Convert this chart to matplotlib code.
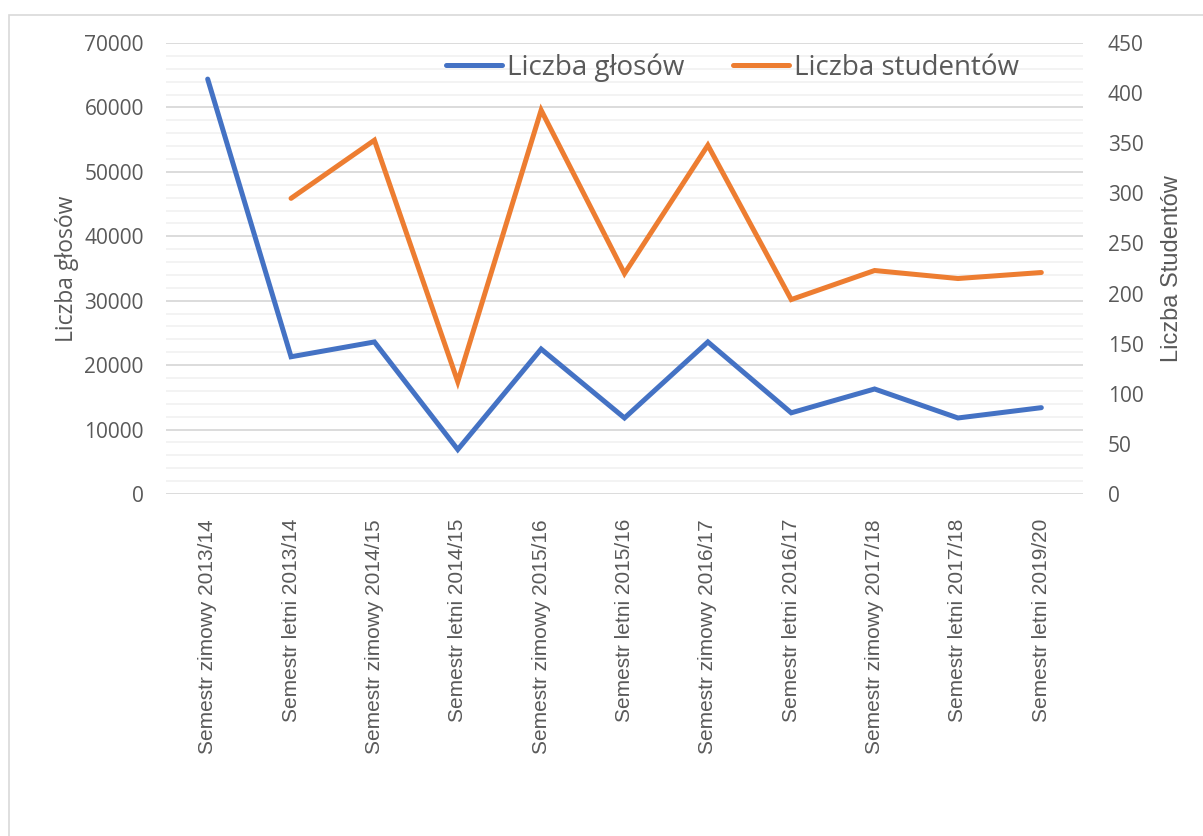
import numpy as np
import matplotlib.pyplot as plt
from matplotlib.patches import Rectangle
from matplotlib.ticker import MultipleLocator

# data
semesters = ["Semestr zimowy 2013/14", "Semestr letni 2013/14", "Semestr zimowy 2014/15",
             "Semestr letni 2014/15", "Semestr zimowy 2015/16", "Semestr letni 2015/16",
             "Semestr zimowy 2016/17", "Semestr letni 2016/17", "Semestr zimowy 2017/18",
             "Semestr letni 2017/18", "Semestr letni 2019/20"]
votes = [64400, 21300, 23600, 6900, 22500, 11800, 23600, 12600, 16300, 11800, 13400]
students = [np.nan, 295, 353, 112, 383, 220, 348, 194, 223, 215, 221]

grey = "#595959"
blue = "#4472C4"
orange = "#ED7D31"
fam = ["Open Sans", "DejaVu Sans"]
narrow = ["Liberation Sans Narrow", "Liberation Sans", "DejaVu Sans"]

fig = plt.figure(figsize=(12.03, 8.36), dpi=100)
# chart area border (top and left visible)
fig.patches.append(Rectangle((9/1203, -0.1), 1.2, 1 - 15/836 + 0.1, transform=fig.transFigure,
                             fill=False, edgecolor="#D9D9D9", lw=1.2))

ax = fig.add_axes([166/1203, 1 - 494/836, (1083-166)/1203, (494-43)/836])
ax2 = ax.twinx()

x = np.arange(len(semesters))
l1, = ax.plot(x, votes, color=blue, lw=3.6, solid_capstyle="round", solid_joinstyle="miter",
              label="Liczba głosów", zorder=3)
l2, = ax2.plot(x, students, color=orange, lw=3.6, solid_capstyle="round", solid_joinstyle="miter",
               label="Liczba studentów", zorder=3)

ax.set_xlim(-0.5, len(semesters) - 0.5)
ax.set_ylim(0, 70000)
ax2.set_ylim(0, 450)
ax.yaxis.set_major_locator(MultipleLocator(10000))
ax.yaxis.set_minor_locator(MultipleLocator(2000))
ax2.yaxis.set_major_locator(MultipleLocator(50))

ax.grid(True, which="major", axis="y", color="#D9D9D9", lw=1.3, zorder=0)
ax.grid(True, which="minor", axis="y", color="#F2F2F2", lw=1.3, zorder=0)
ax.set_axisbelow(True)

for a in (ax, ax2):
    for s in a.spines.values():
        s.set_visible(False)
    a.tick_params(which="both", length=0, colors=grey)

ax.set_xticks(x)
ax.set_xticklabels(semesters, rotation=90, family=narrow, fontsize=15, color=grey)
ax.tick_params(axis="x", pad=18)
ax.tick_params(axis="y", pad=16)
ax2.tick_params(axis="y", pad=18)
for t in ax.get_yticklabels() + ax2.get_yticklabels():
    t.set_family(fam)
    t.set_fontsize(15)

ax.set_ylabel("Liczba głosów", family=fam, fontsize=16.5, color=grey, labelpad=4)
ax2.set_ylabel("Liczba Studentów", family=narrow, fontsize=17, color=grey, labelpad=12)

ax.legend([l1, l2], ["Liczba głosów", "Liczba studentów"], loc="center", bbox_to_anchor=(0.618, 0.945),
          ncol=2, frameon=False, prop={"family": fam, "size": 20}, labelcolor=grey,
          handlelength=2.0, handletextpad=0.2, columnspacing=1.75)

fig.savefig("out.png", dpi=100)
